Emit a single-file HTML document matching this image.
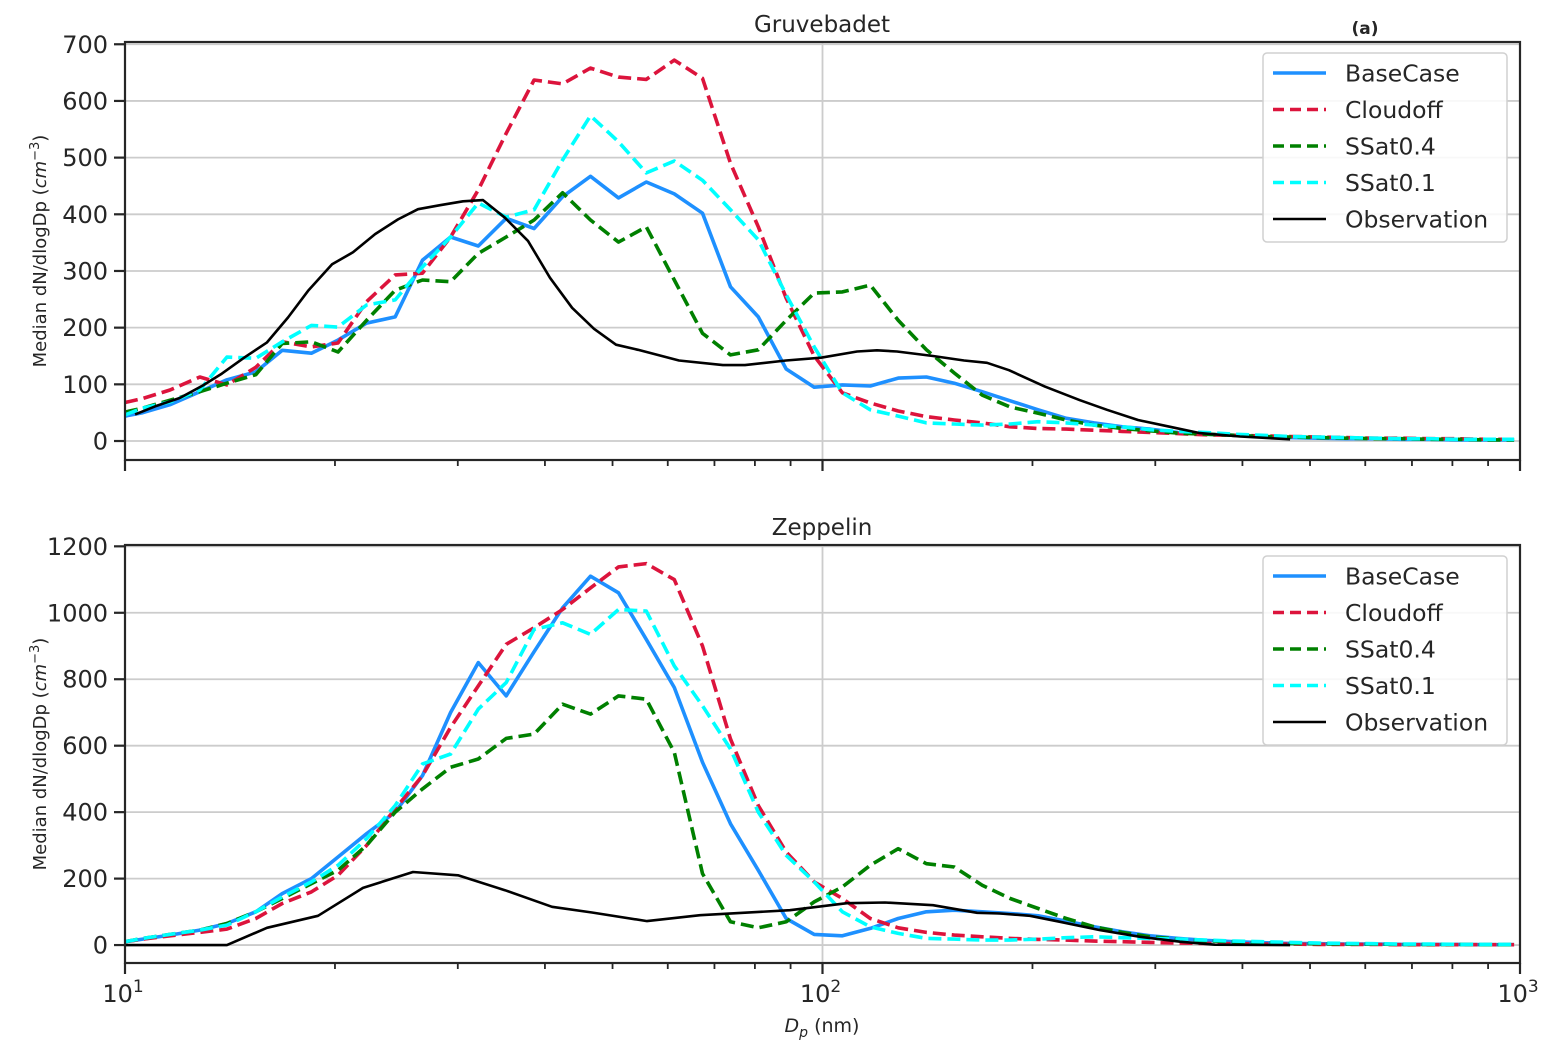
<!DOCTYPE html>
<html><head><meta charset="utf-8">
<style>
html,body{margin:0;padding:0;background:#fff;}
svg{display:block;font-family:"DejaVu Sans","Liberation Sans",sans-serif;}
</style></head>
<body>
<svg id="chart" width="1554" height="1051" viewBox="0 0 1554 1051" xmlns="http://www.w3.org/2000/svg"></svg>
<script>
// ---- data ----
const modelDp = [10,10.6,11.6,12.8,14.0,15.4,16.8,18.5,20.2,22.2,24.4,26.7,29.3,32.1,35.2,38.6,42.4,46.5,51.0,55.9,61.3,67.3,73.8,80.9,88.7,97.3,106.8,117.1,128.4,140.9,154.5,169.4,185.8,203.8,223.6,245.2,269.0,295.0,323.6,354.9,389.3,426.9,468.3,513.6,563.3,617.9,677.7,743.3,815.3,894.2,980.7];
const seriesNames = ["BaseCase","Cloudoff","SSat0.4","SSat0.1","Observation"];

const gruBase = [44,50,64,87,108,122,160,155,178,208,219,319,360,344,393,375,431,467,429,457,436,402,272,219,127,95,99,97,111,113,102,87,71,55,40,32,25,21,15,12,10,8,6,5,4,4,3,3,2,2,2];
const gruCloud = [68,75,90,113,99,130,175,166,173,246,293,296,360,443,543,637,630,658,642,638,672,640,490,378,252,150,85,67,53,43,37,32,25,22,21,19,17,15,13,11,10,9,8,7,6,5,5,4,4,3,3];
const gruS04 = [51,58,72,87,102,117,172,175,157,213,266,284,281,331,360,390,438,390,351,378,284,190,152,161,213,261,263,275,213,161,120,81,60,49,37,28,22,18,14,12,10,8,7,6,5,4,4,3,3,2,2];
const gruS01 = [46,58,69,90,148,146,175,204,201,240,249,307,360,420,395,408,496,574,528,473,494,460,408,355,258,166,85,55,44,32,30,28,30,34,32,28,25,20,17,15,12,10,8,7,6,5,4,4,3,3,3];
const gruObsDp = [10.34,11.04,11.99,12.93,13.77,14.86,15.98,17.13,18.30,19.81,21.23,22.83,24.63,26.31,28.29,30.52,32.60,35.05,37.83,40.67,43.75,47.04,50.58,54.39,62.27,71.99,77.42,88.64,99.5,112.1,119.7,127.9,144.0,159.6,172.1,185.1,208.4,233.9,255.8,283.4,315.0,347.6,396.8,468.1];
const gruObs = [47,61,76,98,119,148,174,218,265,312,333,365,391,409,416,423,425,394,353,288,235,198,170,161,142,134,134,142,147,158,160,158,150,142,138,125,96,72,55,37,25,14,8,3];

const zepBase = [10,18,30,45,65,100,155,200,265,335,400,510,700,850,750,883,1015,1110,1060,920,775,550,365,225,80,32,28,50,80,100,105,100,95,88,72,55,40,28,20,14,10,7,5,4,3,3,2,2,2,1,1];
const zepCloud = [10,18,28,38,48,80,125,160,210,300,410,510,655,780,905,955,1010,1075,1138,1148,1100,900,620,420,280,190,140,80,52,38,30,25,20,17,15,12,10,8,6,5,4,3,3,2,2,2,1,1,1,1,1];
const zepS04 = [10,20,32,45,65,100,140,185,225,300,400,470,535,560,622,635,725,695,750,740,580,215,70,52,70,130,175,240,290,245,235,180,140,110,80,55,38,25,18,13,10,7,5,4,3,3,2,2,2,1,1];
const zepS01 = [10,20,32,45,60,100,145,190,240,320,420,545,575,710,790,950,970,935,1010,1005,840,720,590,400,270,190,100,55,35,20,18,15,15,18,22,25,22,20,18,15,12,10,8,6,5,4,3,3,2,2,2];
const zepObsDp = [10,14.0,15.98,18.91,21.94,25.88,30.02,35.05,40.94,46.73,56.03,66.75,89.8,108.4,122.9,144.0,166.6,179.7,198.4,219.0,249.9,285.3,325.5,365.3,468.1];
const zepObs = [0,0,52,88,172,220,210,165,115,98,72,90,105,126,128,120,97,95,88,70,45,25,10,1,0];

const topTicks = [0,100,200,300,400,500,600,700];
const botTicks = [0,200,400,600,800,1000,1200];
const xMajor = [10,100,1000];
const xMajorLabels = ["1","2","3"];

// ---- helpers ----
const NS = "http://www.w3.org/2000/svg";
const svg = document.getElementById("chart");
function mk(tag, attrs, parent){
  const e = document.createElementNS(NS, tag);
  for (const k in attrs) e.setAttribute(k, attrs[k]);
  (parent||svg).appendChild(e);
  return e;
}
const X0 = 125, X1 = 1520;
function xs(v){ return X0 + (Math.log10(v) - 1) / 2 * (X1 - X0); }

const colors = ["#1e90ff","#dc143c","#008000","#00ffff","#000000"];
const dashes = [null,"13,6","13,6","13,6",null];
const widths = [3.6,3.6,3.6,3.6,2.6];

function panel(opts){
  const {top, bottom, ymin, ymax, ticks, title, key, series, obsDp, obsVals, showXLabels} = opts;
  const ys = v => bottom - (v - ymin) / (ymax - ymin) * (bottom - top);
  const g = mk("g", {});
  
  
  ticks.forEach(t => {
    const l = mk("line", {x1:X0, x2:X1, y1:ys(t), y2:ys(t), stroke:"#cccccc", "stroke-width":1.8}, g);
    
    
  });
  const vg = mk("line", {x1:xs(100), x2:xs(100), y1:top, y2:bottom, stroke:"#cccccc", "stroke-width":1.8}, g);
  
  
  series.forEach((vals, si) => {
    const d = vals.map((v,i) => (i?"L":"M") + xs(modelDp[i]).toFixed(1) + "," + ys(v).toFixed(1)).join(" ");
    const p = mk("path", {d, fill:"none", stroke:colors[si], "stroke-width":widths[si], "stroke-linejoin":"round"}, g);
    if (dashes[si]) p.setAttribute("stroke-dasharray", dashes[si]);
    
    
  });
  const od = obsVals.map((v,i) => (i?"L":"M") + xs(obsDp[i]).toFixed(1) + "," + ys(v).toFixed(1)).join(" ");
  const op = mk("path", {d:od, fill:"none", stroke:"#000", "stroke-width":2.6, "stroke-linejoin":"round"}, g);
  
  
  const fr = mk("rect", {x:X0, y:top, width:X1-X0, height:bottom-top, fill:"none", stroke:"#262626", "stroke-width":2.2}, g);
  
  
  ticks.forEach(t => {
    mk("line", {x1:X0-11, x2:X0, y1:ys(t), y2:ys(t), stroke:"#262626", "stroke-width":2.2}, g);
    const tx = mk("text", {x:X0-17, y:ys(t)+8.5, "text-anchor":"end", "font-size":24, fill:"#262626"}, g);
    tx.textContent = t;
    
    
  });
  for (let dec = 10; dec < 1000; dec *= 10) {
    for (let m = 2; m <= 9; m++) {
      const x = xs(dec*m);
      mk("line", {x1:x, x2:x, y1:bottom, y2:bottom+6, stroke:"#262626", "stroke-width":1.8}, g);
    }
  }
  xMajor.forEach((v, i) => {
    const x = xs(v);
    mk("line", {x1:x, x2:x, y1:bottom, y2:bottom+11, stroke:"#262626", "stroke-width":2.2}, g);
    if (showXLabels) {
      const tx = mk("text", {x:x-2, y:bottom+39, "text-anchor":"middle", "font-size":24, fill:"#262626"}, g);
      
      
      tx.innerHTML = '10<tspan dy="-10" font-size="17">' + xMajorLabels[i] + '</tspan>';
    }
  });
  const tt = mk("text", {x:822, y:top-10, "text-anchor":"middle", "font-size":23, fill:"#262626"}, g);
  tt.textContent = title;
  
  
  const cy = (top+bottom)/2;
  const yl = mk("text", {x:0, y:0, transform:"translate(46," + cy + ") rotate(-90)", "text-anchor":"middle", "font-size":18, fill:"#262626"}, g);
  yl.innerHTML = 'Median dN/dlogDp (<tspan font-style="italic">cm</tspan><tspan dy="-7" font-size="13">−3</tspan><tspan dy="7">)</tspan>';
  
  
  const lg = mk("g", {}, g);
  
  
  const ly = top + 11;
  mk("rect", {x:1263, y:ly, width:244, height:189, rx:4, fill:"#fff", "fill-opacity":0.85, stroke:"#d0d0d0", "stroke-width":1.5}, lg);
  seriesNames.forEach((n, si) => {
    const ry = ly + 20 + si*36.5;
    const ent = mk("g", {}, lg);
    
    
    const hl = mk("line", {x1:1273, x2:1326, y1:ry, y2:ry, stroke:colors[si], "stroke-width":widths[si]}, ent);
    if (dashes[si]) hl.setAttribute("stroke-dasharray", "11,6");
    const t = mk("text", {x:1345, y:ry+8.5, "font-size":23.5, fill:"#262626"}, ent);
    t.textContent = n;
  });
}

panel({top:42, bottom:460, ymin:-33.5, ymax:704, ticks:topTicks, title:"Gruvebadet", key:"gruvebadet",
  series:[gruBase,gruCloud,gruS04,gruS01], obsDp:gruObsDp, obsVals:gruObs, showXLabels:false});
panel({top:545, bottom:963, ymin:-54, ymax:1204, ticks:botTicks, title:"Zeppelin", key:"zeppelin",
  series:[zepBase,zepCloud,zepS04,zepS01], obsDp:zepObsDp, obsVals:zepObs, showXLabels:true});

const pa = mk("text", {x:1365, y:34, "text-anchor":"middle", "font-size":17, "font-weight":"bold", fill:"#262626"});
pa.textContent = "(a)";



const xl = mk("text", {x:822, y:1032, "text-anchor":"middle", "font-size":19, fill:"#262626"});
xl.innerHTML = '<tspan font-style="italic">D</tspan><tspan font-style="italic" font-size="14" dy="5">p</tspan><tspan dy="-5"> (nm)</tspan>';


</script>
</body></html>
